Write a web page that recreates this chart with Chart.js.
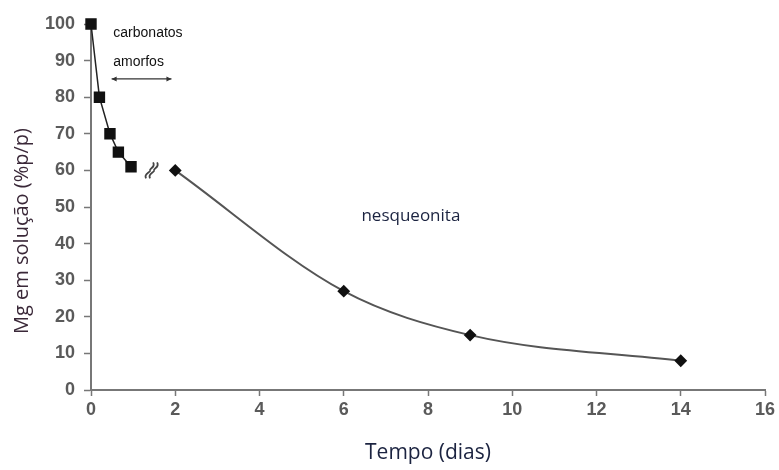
<!DOCTYPE html>
<html lang="pt">
<head>
<meta charset="UTF-8">
<title>Mg em solução</title>
<script src="https://cdn.jsdelivr.net/npm/chart.js"></script>
<style>
  html, body { margin: 0; padding: 0; background: #fff; }
  #wrap { width: 779px; height: 470px; }
</style>
</head>
<body>
<div id="wrap"><canvas id="grafico"></canvas></div>
<script>
// carbonatos amorfos (primeiro dia)
const amorfosX = [0, 0.2, 0.45, 0.65, 0.95];
const amorfosY = [100, 80, 70, 65, 61];
// nesqueonita
const nesqX = [2, 6, 9, 14];
const nesqY = [60, 27, 15, 8];

const xTicks = [0, 2, 4, 6, 8, 10, 12, 14, 16];
const yTicks = [0, 10, 20, 30, 40, 50, 60, 70, 80, 90, 100];

const tickFont = { family: "'Liberation Sans Narrow', 'Arial Narrow', Arial, sans-serif", size: 18, weight: 'bold' };

// textos, seta e título do eixo y
const anotacoes = {
  id: 'anotacoes',
  afterDatasetsDraw(chart) {
    const ctx = chart.ctx;
    const x = chart.scales.x, y = chart.scales.y;
    ctx.save();
    ctx.fillStyle = '#111';
    ctx.textBaseline = 'middle';
    ctx.font = "14px 'Liberation Sans Narrow', 'Arial Narrow', Arial, sans-serif";
    ctx.fillText('carbonatos', x.getPixelForValue(0.53), y.getPixelForValue(97.5));
    ctx.fillText('amorfos', x.getPixelForValue(0.53), y.getPixelForValue(89.6));

    // seta dupla
    const x1 = x.getPixelForValue(0.49), x2 = x.getPixelForValue(1.91), ya = y.getPixelForValue(85);
    ctx.strokeStyle = '#333';
    ctx.lineWidth = 1.2;
    ctx.beginPath();
    ctx.moveTo(x1, ya); ctx.lineTo(x2, ya);
    ctx.stroke();
    ctx.fillStyle = '#333';
    ctx.beginPath();
    ctx.moveTo(x1, ya); ctx.lineTo(x1 + 5, ya - 2.5); ctx.lineTo(x1 + 5, ya + 2.5); ctx.closePath();
    ctx.moveTo(x2, ya); ctx.lineTo(x2 - 5, ya - 2.5); ctx.lineTo(x2 - 5, ya + 2.5); ctx.closePath();
    ctx.fill();

    // quebra do eixo (~)
    const bx = x.getPixelForValue(1.45), by = y.getPixelForValue(60);
    ctx.strokeStyle = '#444';
    ctx.lineWidth = 1.8;
    [-2, 2].forEach(d => {
      ctx.beginPath();
      ctx.moveTo(bx - 4 + d, by + 8);
      ctx.bezierCurveTo(bx - 7 + d, by + 3, bx + 1 + d, by + 2, bx + d, by);
      ctx.bezierCurveTo(bx - 1 + d, by - 2, bx + 6 + d, by - 3, bx + 3 + d, by - 8);
      ctx.stroke();
    });

    ctx.fillStyle = '#1b2340';
    ctx.font = "17px 'Open Sans', sans-serif";
    ctx.fillText('nesqueonita', x.getPixelForValue(6.42), y.getPixelForValue(47.5));

    // título do eixo y (um pouco abaixo do centro, como no original)
    ctx.translate(22, 231);
    ctx.rotate(-Math.PI / 2);
    ctx.textAlign = 'center';
    ctx.fillStyle = '#3a2838';
    ctx.font = "20px 'Open Sans', sans-serif";
    ctx.fillText('Mg em solução (%p/p)', 0, 0);
    ctx.restore();
  }
};

new Chart(document.getElementById('grafico'), {
  type: 'scatter',
  data: {
    datasets: [
      {
        label: 'carbonatos amorfos',
        data: amorfosX.map((v, i) => ({ x: v, y: amorfosY[i] })),
        showLine: true,
        clip: false,
        borderColor: '#222',
        borderWidth: 1.5,
        pointStyle: 'rect',
        pointRadius: 7,
        backgroundColor: '#111',
        pointBorderColor: '#111',
        tension: 0
      },
      {
        label: 'nesqueonita',
        data: nesqX.map((v, i) => ({ x: v, y: nesqY[i] })),
        showLine: true,
        clip: false,
        borderColor: '#555',
        borderWidth: 2,
        pointStyle: 'rectRot',
        pointRadius: 5,
        backgroundColor: '#111',
        pointBorderColor: '#111',
        cubicInterpolationMode: 'monotone'
      }
    ]
  },
  options: {
    responsive: true,
    maintainAspectRatio: false,
    animation: false,
    layout: { padding: { top: 24, right: 14, left: 0, bottom: 0 } },
    plugins: { legend: { display: false }, tooltip: { enabled: false } },
    scales: {
      x: {
        type: 'linear',
        min: 0, max: 16,
        afterBuildTicks: s => { s.ticks = xTicks.map(v => ({ value: v })); },
        afterFit: s => { s.height = 80; },
        grid: { drawOnChartArea: false, color: '#777', tickLength: 6, tickWidth: 1.5 },
        border: { color: '#777', width: 2 },
        ticks: { color: '#5a5a5a', font: tickFont, padding: 3, maxRotation: 0 },
        title: { display: true, text: 'Tempo (dias)', color: '#1b2340',
                 font: { family: "'Open Sans', sans-serif", size: 21 }, padding: { top: 12 } }
      },
      y: {
        min: 0, max: 100,
        afterBuildTicks: s => { s.ticks = yTicks.map(v => ({ value: v })); },
        afterFit: s => { s.width = 91; },
        grid: { drawOnChartArea: false, color: '#777', tickLength: 7, tickWidth: 1.5 },
        border: { color: '#777', width: 2 },
        ticks: { color: '#5a5a5a', font: tickFont, padding: 9 }
      }
    }
  },
  plugins: [anotacoes]
});
</script>
</body>
</html>
